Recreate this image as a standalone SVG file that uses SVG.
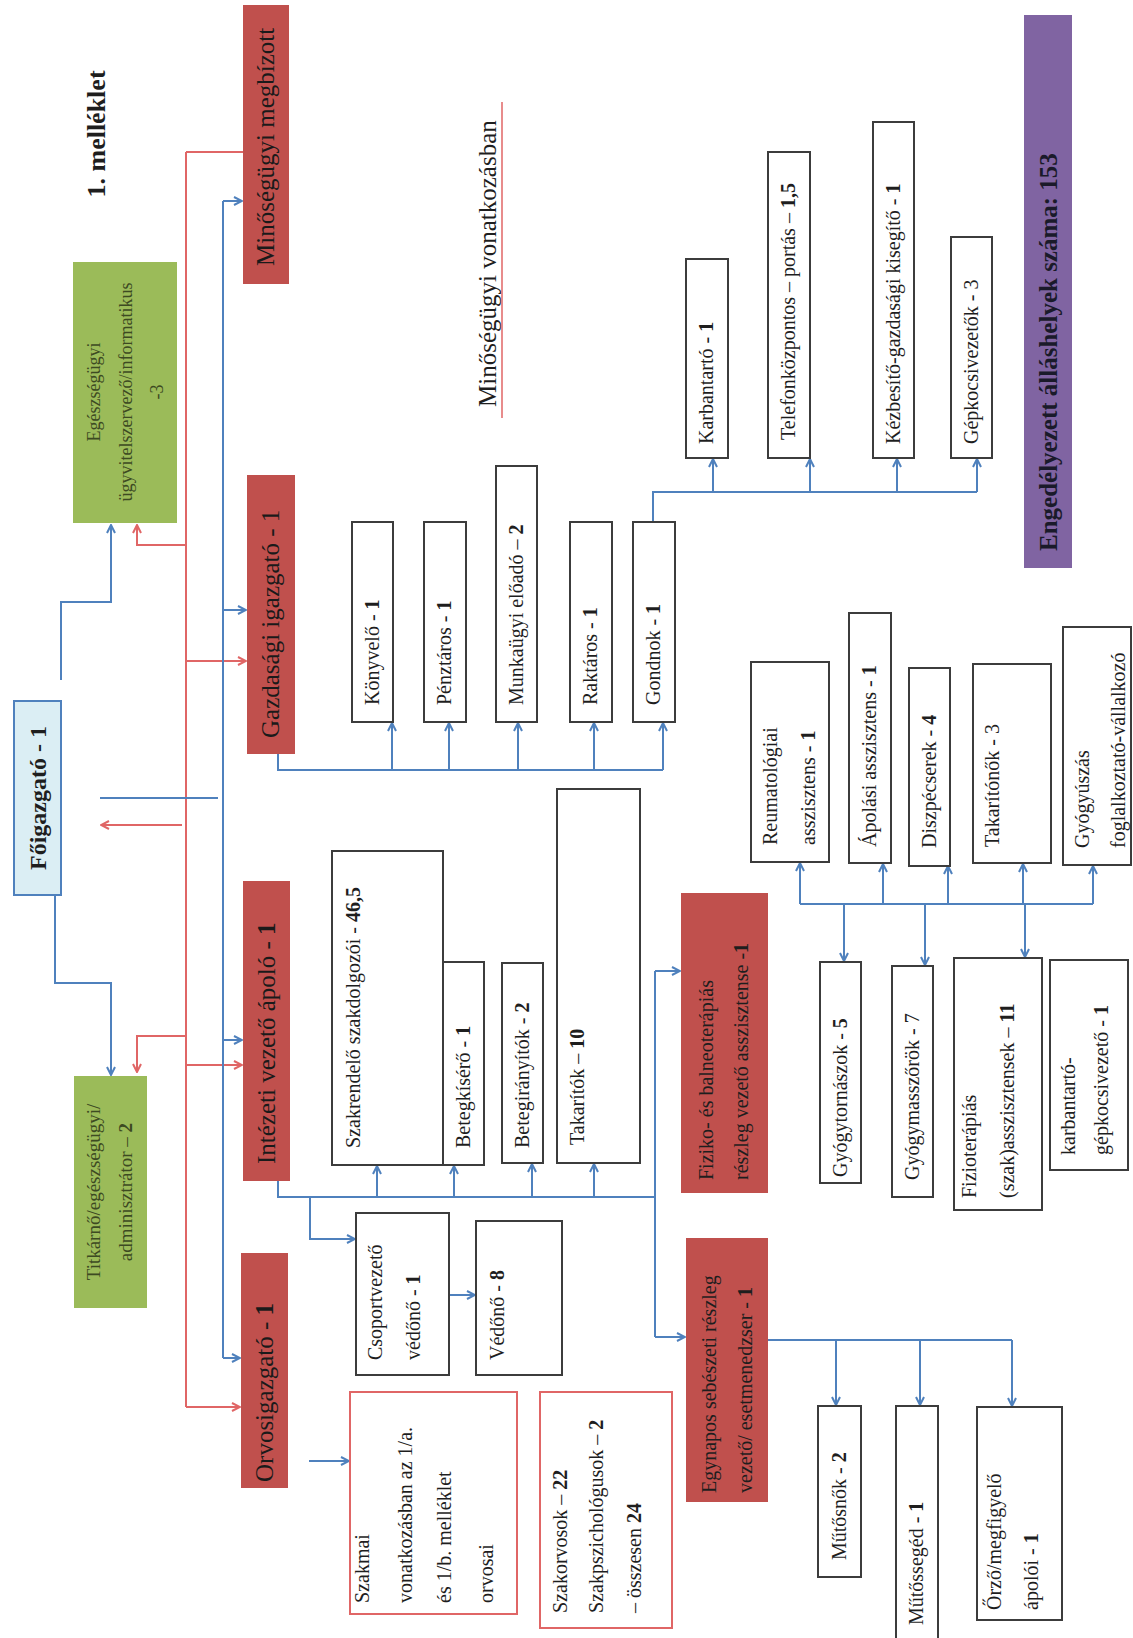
<svg xmlns="http://www.w3.org/2000/svg" width="1133" height="1638" viewBox="0 0 1133 1638">
<style>
.bg{fill:#ffffff}
.w{fill:#ffffff;stroke:#3c3c3c;stroke-width:2}
.wr{fill:#ffffff;stroke:#E06666;stroke-width:2}
.r{fill:#C0504D}
.g{fill:#9BBB59}
.p{fill:#8064A2}
.fb{fill:#DBEEF4;stroke:#4F81BD;stroke-width:2}
.t{font-family:"Liberation Serif","Times New Roman",serif;font-size:20px;fill:#1e1e1e}
.h{font-size:25px;fill:#1a1a1a}
.gt{font-size:18px;fill:#3d4a22}
.b{font-weight:bold}
.cb{stroke:#4F81BD;stroke-width:2;fill:none}
.cr{stroke:#E06666;stroke-width:2;fill:none}
.ab{marker-end:url(#ab)}
.ar{marker-end:url(#ar)}
</style>
<defs>
<marker id="ab" markerWidth="10" markerHeight="10" refX="9" refY="5" orient="auto" markerUnits="userSpaceOnUse"><path d="M1,1 L9,5 L1,9" fill="none" stroke="#4F81BD" stroke-width="2"/></marker>
<marker id="ar" markerWidth="10" markerHeight="10" refX="9" refY="5" orient="auto" markerUnits="userSpaceOnUse"><path d="M1,1 L9,5 L1,9" fill="none" stroke="#E06666" stroke-width="2"/></marker>
</defs>
<rect class="bg" x="0" y="0" width="1133" height="1638"/>

<g id="title">
<text class="t b" style="font-size:26px" text-anchor="middle" transform="translate(105,134) rotate(-90)">1. melléklet</text>
</g>

<g id="minosegugyi-vonatkozasban">
<text class="t" style="font-size:25px" transform="translate(496,407) rotate(-90)">Minőségügyi vonatkozásban</text>
<line x1="502" y1="102" x2="502" y2="418" stroke="#E06666" stroke-width="1.5"/>
</g>

<g id="connectors">
<path class="cr" d="M186,152 V1407"/>
<path class="cr" d="M186,152 H243"/>
<path class="cr ar" d="M186,545 H137 V525"/>
<path class="cr ar" d="M186,661 H246"/>
<path class="cr ar" d="M182,825 H101"/>
<path class="cr ar" d="M186,1036 H137 V1072"/>
<path class="cr ar" d="M186,1065 H242"/>
<path class="cr ar" d="M186,1407 H240"/>
<path class="cb" d="M223,201 V1358"/>
<path class="cb ab" d="M223,201 H242"/>
<path class="cb ab" d="M223,610 H246"/>
<path class="cb ab" d="M223,1040 H242"/>
<path class="cb ab" d="M223,1358 H240"/>
<path class="cb" d="M100,798 H218"/>
<path class="cb ab" d="M61,680 V602 H111 V525"/>
<path class="cb ab" d="M55,884 V983 H111 V1075"/>
<path class="cb" d="M278,754 V770 H663"/>
<path class="cb ab" d="M392,770 V723"/>
<path class="cb ab" d="M449,770 V723"/>
<path class="cb ab" d="M518,770 V723"/>
<path class="cb ab" d="M594,770 V723"/>
<path class="cb ab" d="M663,770 V723"/>
<path class="cb" d="M653,522 V492 H977"/>
<path class="cb ab" d="M713,492 V459"/>
<path class="cb ab" d="M810,492 V459"/>
<path class="cb ab" d="M897,492 V459"/>
<path class="cb ab" d="M977,492 V459"/>
<path class="cb" d="M278,1181 V1197 H655"/>
<path class="cb ab" d="M377,1197 V1166"/>
<path class="cb ab" d="M454,1197 V1166"/>
<path class="cb ab" d="M532,1197 V1164"/>
<path class="cb ab" d="M594,1197 V1164"/>
<path class="cb ab" d="M310,1197 V1239 H355"/>
<path class="cb" d="M655,971 V1337"/>
<path class="cb ab" d="M655,971 H680"/>
<path class="cb ab" d="M655,1337 H685"/>
<path class="cb ab" d="M449,1295 H475"/>
<path class="cb ab" d="M309,1461 H349"/>
<path class="cb" d="M768,1340 H1012"/>
<path class="cb ab" d="M836,1340 V1405"/>
<path class="cb ab" d="M920,1340 V1405"/>
<path class="cb ab" d="M1012,1340 V1406"/>
<path class="cb" d="M800,904 H1093"/>
<path class="cb ab" d="M800,904 V863"/>
<path class="cb ab" d="M883,904 V864"/>
<path class="cb ab" d="M948,904 V866"/>
<path class="cb ab" d="M1023,904 V864"/>
<path class="cb ab" d="M1093,904 V866"/>
<path class="cb ab" d="M844,904 V961"/>
<path class="cb ab" d="M925,904 V965"/>
<path class="cb ab" d="M1025,904 V957"/>
</g>

<g id="minosegugyi-megbizott">
<rect class="r" x="243" y="5" width="46" height="279"/>
<text class="t h" transform="translate(274,266) rotate(-90)">Minőségügyi megbízott</text>
</g>

<g id="egeszsegugyi-ugyvitel">
<rect class="g" x="73" y="262" width="104" height="261"/>
<text class="t gt" text-anchor="middle" transform="translate(100,392) rotate(-90)">Egészségügyi</text>
<text class="t gt" text-anchor="middle" transform="translate(132,392) rotate(-90)">ügyvitelszervező/informatikus</text>
<text class="t gt" text-anchor="middle" transform="translate(163,392) rotate(-90)">-3</text>
</g>

<g id="foigazgato">
<rect class="fb" x="14" y="701" width="47" height="194"/>
<text class="t b" style="font-size:24px" text-anchor="middle" transform="translate(46,798) rotate(-90)">Főigazgató - 1</text>
</g>

<g id="titkarno">
<rect class="g" x="74" y="1076" width="73" height="232"/>
<text class="t gt" style="font-size:19px" text-anchor="middle" transform="translate(100,1192) rotate(-90)">Titkárnő/egészségügyi/</text>
<text class="t gt" style="font-size:19px" text-anchor="middle" transform="translate(132,1192) rotate(-90)">adminisztrátor – <tspan class="b">2</tspan></text>
</g>

<g id="gazdasagi">
<rect class="r" x="247" y="475" width="48" height="279"/>
<text class="t h" transform="translate(279,738) rotate(-90)">Gazdasági igazgató - 1</text>
</g>

<g id="intezeti">
<rect class="r" x="243" y="881" width="47" height="300"/>
<text class="t h" transform="translate(275,1164) rotate(-90)">Intézeti vezető ápoló - <tspan class="b">1</tspan></text>
</g>

<g id="orvosigazgato">
<rect class="r" x="241" y="1253" width="47" height="235"/>
<text class="t h" transform="translate(273,1482) rotate(-90)">Orvosigazgató - <tspan class="b">1</tspan></text>
</g>

<g id="engedelyezett">
<rect class="p" x="1024" y="15" width="48" height="553"/>
<text class="t b" style="font-size:25px;fill:#1a1a2a" transform="translate(1057,551) rotate(-90)">Engedélyezett álláshelyek száma: 153</text>
</g>

<g id="konyvelo">
<rect class="w" x="352" y="522" width="41" height="200"/>
<text class="t" transform="translate(379,705) rotate(-90)">Könyvelő - <tspan class="b">1</tspan></text>
</g>
<g id="penztaros">
<rect class="w" x="424" y="522" width="42" height="200"/>
<text class="t" transform="translate(451,705) rotate(-90)">Pénztáros - <tspan class="b">1</tspan></text>
</g>
<g id="munkaugyi">
<rect class="w" x="496" y="466" width="41" height="256"/>
<text class="t" transform="translate(523,705) rotate(-90)">Munkaügyi előadó – <tspan class="b">2</tspan></text>
</g>
<g id="raktaros">
<rect class="w" x="570" y="522" width="42" height="200"/>
<text class="t" transform="translate(597,705) rotate(-90)">Raktáros - <tspan class="b">1</tspan></text>
</g>
<g id="gondnok">
<rect class="w" x="633" y="522" width="42" height="200"/>
<text class="t" transform="translate(660,705) rotate(-90)">Gondnok - <tspan class="b">1</tspan></text>
</g>

<g id="karbantarto">
<rect class="w" x="686" y="259" width="42" height="199"/>
<text class="t" transform="translate(713,444) rotate(-90)">Karbantartó - <tspan class="b">1</tspan></text>
</g>
<g id="telefonkozpontos">
<rect class="w" x="768" y="152" width="42" height="306"/>
<text class="t" transform="translate(795,440) rotate(-90)">Telefonközpontos – portás – <tspan class="b">1,5</tspan></text>
</g>
<g id="kezbesito">
<rect class="w" x="873" y="122" width="41" height="336"/>
<text class="t" transform="translate(900,444) rotate(-90)">Kézbesítő-gazdasági kisegítő  - <tspan class="b">1</tspan></text>
</g>
<g id="gepkocsivezetok">
<rect class="w" x="951" y="237" width="41" height="221"/>
<text class="t" transform="translate(978,444) rotate(-90)">Gépkocsivezetők - 3</text>
</g>

<g id="szakrendelo">
<rect class="w" x="332" y="851" width="111" height="314"/>
<text class="t" transform="translate(360,1148) rotate(-90)">Szakrendelő szakdolgozói - <tspan class="b">46,5</tspan></text>
</g>
<g id="betegkisero">
<rect class="w" x="443" y="962" width="41" height="203"/>
<text class="t" transform="translate(470,1148) rotate(-90)">Betegkísérő - <tspan class="b">1</tspan></text>
</g>
<g id="betegiranyitok">
<rect class="w" x="502" y="963" width="41" height="200"/>
<text class="t" transform="translate(529,1148) rotate(-90)">Betegirányítók - <tspan class="b">2</tspan></text>
</g>
<g id="takaritok">
<rect class="w" x="557" y="789" width="83" height="374"/>
<text class="t" transform="translate(584,1145) rotate(-90)">Takarítók – <tspan class="b">10</tspan></text>
</g>

<g id="csoportvezeto">
<rect class="w" x="356" y="1213" width="93" height="162"/>
<text class="t" transform="translate(382,1360) rotate(-90)">Csoportvezető</text>
<text class="t" transform="translate(420,1360) rotate(-90)">védőnő - <tspan class="b">1</tspan></text>
</g>
<g id="vedono">
<rect class="w" x="476" y="1221" width="86" height="154"/>
<text class="t" transform="translate(504,1360) rotate(-90)">Védőnő - <tspan class="b">8</tspan></text>
</g>

<g id="szakmai">
<rect class="wr" x="350" y="1392" width="167" height="222"/>
<text class="t" transform="translate(369,1603) rotate(-90)">Szakmai</text>
<text class="t" transform="translate(412,1603) rotate(-90)">vonatkozásban az 1/a.</text>
<text class="t" transform="translate(451,1603) rotate(-90)">és 1/b. melléklet</text>
<text class="t" transform="translate(493,1603) rotate(-90)">orvosai</text>
</g>
<g id="szakorvosok">
<rect class="wr" x="540" y="1392" width="132" height="236"/>
<text class="t" transform="translate(567,1613) rotate(-90)">Szakorvosok – <tspan class="b">22</tspan></text>
<text class="t" transform="translate(603,1613) rotate(-90)">Szakpszichológusok – <tspan class="b">2</tspan></text>
<text class="t" transform="translate(641,1613) rotate(-90)">– összesen <tspan class="b">24</tspan></text>
</g>

<g id="fiziko">
<rect class="r" x="681" y="893" width="87" height="300"/>
<text class="t" transform="translate(713,1180) rotate(-90)">Fiziko- és balneoterápiás</text>
<text class="t" transform="translate(748,1180) rotate(-90)">részleg vezető asszisztense -<tspan class="b">1</tspan></text>
</g>
<g id="egynapos">
<rect class="r" x="686" y="1238" width="82" height="264"/>
<text class="t" transform="translate(716,1493) rotate(-90)">Egynapos sebészeti részleg</text>
<text class="t" transform="translate(752,1493) rotate(-90)">vezető/ esetmenedzser - <tspan class="b">1</tspan></text>
</g>

<g id="mutosnok">
<rect class="w" x="818" y="1406" width="43" height="171"/>
<text class="t" transform="translate(846,1560) rotate(-90)">Műtősnők - <tspan class="b">2</tspan></text>
</g>
<g id="mutossegéd">
<rect class="w" x="896" y="1406" width="42" height="250"/>
<text class="t" transform="translate(923,1625) rotate(-90)">Műtőssegéd - <tspan class="b">1</tspan></text>
</g>
<g id="orzo">
<rect class="w" x="977" y="1407" width="85" height="213"/>
<text class="t" transform="translate(1001,1610) rotate(-90)">Őrző/megfigyelő</text>
<text class="t" transform="translate(1038,1610) rotate(-90)">ápolói - <tspan class="b">1</tspan></text>
</g>

<g id="reumatologiai">
<rect class="w" x="751" y="662" width="78" height="200"/>
<text class="t" transform="translate(777,845) rotate(-90)">Reumatológiai</text>
<text class="t" transform="translate(815,845) rotate(-90)">asszisztens - <tspan class="b">1</tspan></text>
</g>
<g id="apolasi">
<rect class="w" x="849" y="613" width="42" height="250"/>
<text class="t" transform="translate(876,847) rotate(-90)">Ápolási asszisztens - <tspan class="b">1</tspan></text>
</g>
<g id="diszpecserek">
<rect class="w" x="909" y="668" width="41" height="198"/>
<text class="t" transform="translate(936,848) rotate(-90)">Diszpécserek - <tspan class="b">4</tspan></text>
</g>
<g id="takaritonok">
<rect class="w" x="973" y="664" width="78" height="199"/>
<text class="t" transform="translate(999,847) rotate(-90)">Takarítónők - 3</text>
</g>
<g id="gyogyuszas">
<rect class="w" x="1063" y="627" width="68" height="238"/>
<text class="t" transform="translate(1089,848) rotate(-90)">Gyógyúszás</text>
<text class="t" transform="translate(1125,848) rotate(-90)">foglalkoztató-vállalkozó</text>
</g>

<g id="gyogytornaszok">
<rect class="w" x="820" y="962" width="41" height="221"/>
<text class="t" transform="translate(847,1177) rotate(-90)">Gyógytornászok - <tspan class="b">5</tspan></text>
</g>
<g id="gyogymasszorok">
<rect class="w" x="892" y="966" width="41" height="231"/>
<text class="t" transform="translate(919,1180) rotate(-90)">Gyógymasszőrök - 7</text>
</g>
<g id="fizioterapias">
<rect class="w" x="954" y="958" width="88" height="252"/>
<text class="t" transform="translate(976,1198) rotate(-90)">Fizioterápiás</text>
<text class="t" transform="translate(1014,1198) rotate(-90)">(szak)asszisztensek – <tspan class="b">11</tspan></text>
</g>
<g id="karbantarto-gepkocsivezeto">
<rect class="w" x="1050" y="960" width="78" height="210"/>
<text class="t" transform="translate(1075,1155) rotate(-90)">karbantartó-</text>
<text class="t" transform="translate(1108,1155) rotate(-90)">gépkocsivezető - <tspan class="b">1</tspan></text>
</g>
</svg>
